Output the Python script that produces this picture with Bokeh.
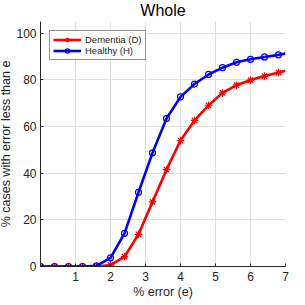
from bokeh.plotting import figure
from bokeh.models import Range1d, FixedTicker, Legend, LegendItem
from bokeh.embed import file_html
from bokeh.resources import INLINE

# data
err = [0.0, 0.4, 0.8, 1.2, 1.6, 2.0, 2.4, 2.8, 3.2, 3.6, 4.0, 4.4, 4.8, 5.2, 5.6, 6.0, 6.4, 6.8, 7.0]
dementia = [0.0, 0.0, 0.0, 0.0, 0.0, 0.6, 4.2, 13.8, 27.7, 41.5, 54.0, 62.6, 69.1, 74.4, 77.7, 79.9, 81.6, 83.1, 83.9]
healthy = [0.0, 0.0, 0.0, 0.0, 0.3, 3.7, 14.2, 31.8, 48.7, 63.4, 72.7, 78.2, 82.3, 85.2, 87.5, 88.8, 89.8, 90.7, 91.3]
n_markers = 18  # markers drawn every 0.4 up to 6.8
x_ticks = [1, 2, 3, 4, 5, 6, 7]
y_ticks = [0, 20, 40, 60, 80, 100]

FONT = "Liberation Sans"
TXT = "#262626"

p = figure(width=305, height=305, output_backend="svg", toolbar_location=None,
           x_range=Range1d(0, 7), y_range=Range1d(0, 105),
           min_border_left=37, min_border_right=16, min_border_top=0, min_border_bottom=34,
           title="Whole")
p.margin = (-4, -4, -4, -4)
p.outline_line_color = None
p.background_fill_color = "white"

p.title.align = "center"
p.title.text_font = FONT
p.title.text_font_size = "16px"
p.title.text_font_style = "normal"
p.title.text_color = "black"
p.title.standoff = 6
p.title.offset = 0

for ax in (p.xaxis[0], p.yaxis[0]):
    ax.axis_line_color = TXT
    ax.major_tick_line_color = TXT
    ax.major_tick_in = 3
    ax.major_tick_out = 0
    ax.minor_tick_line_color = None
    ax.major_label_text_font = FONT
    ax.major_label_text_font_size = "12px"
    ax.major_label_text_color = TXT
    ax.axis_label_text_font = FONT
    ax.axis_label_text_font_size = "12.5px"
    ax.axis_label_text_color = TXT
    ax.axis_label_text_font_style = "normal"

p.xaxis.ticker = FixedTicker(ticks=x_ticks)
p.yaxis.ticker = FixedTicker(ticks=y_ticks)
p.xaxis.axis_label = "% error (e)"
p.yaxis.axis_label = "% cases with error less than e"
p.xaxis.major_label_standoff = 5
p.xaxis.axis_label_standoff = 1
p.yaxis.major_label_standoff = 4
p.yaxis.axis_label_standoff = 0

p.xgrid.ticker = FixedTicker(ticks=x_ticks)
p.ygrid.ticker = FixedTicker(ticks=y_ticks)
p.grid.grid_line_color = "#dedede"
p.grid.grid_line_width = 1

RED = "#ff0000"
BLUE = "#0000ff"

l1 = p.line(err, dementia, line_color=RED, line_width=2.6)
m1 = p.scatter(err[:n_markers], dementia[:n_markers], marker="asterisk", size=7.5,
               line_color=RED, line_width=1.2)
l2 = p.line(err, healthy, line_color=BLUE, line_width=2.6)
m2 = p.scatter(err[:n_markers], healthy[:n_markers], marker="circle", size=6,
               line_color=BLUE, fill_color=None, line_width=1.2)

legend = Legend(items=[LegendItem(label="Dementia (D)", renderers=[l1, m1]),
                       LegendItem(label="Healthy (H)", renderers=[l2, m2])],
                location="top_left", margin=9, padding=3, spacing=0,
                glyph_width=28, glyph_height=11, label_height=11, label_standoff=4,
                label_text_font=FONT, label_text_font_size="9.5px", label_text_color=TXT,
                border_line_color=TXT, border_line_width=1, background_fill_alpha=1)
p.add_layout(legend, "center")

open("out.html", "w").write(file_html(p, INLINE))
